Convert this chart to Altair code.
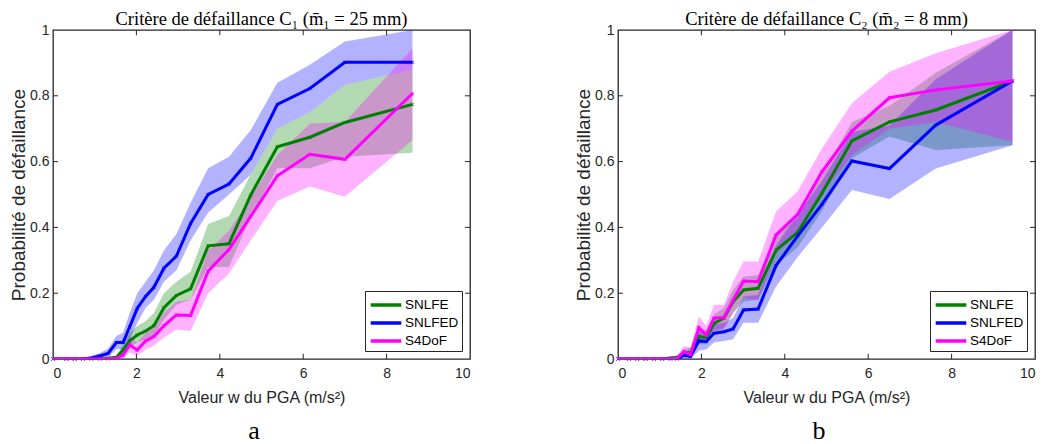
import altair as alt
import pandas as pd

SERIES = ["SNLFE", "SNLFED", "S4DoF"]
COLORS = ["#008000", "#0000ff", "#ff00ff"]

# ---------------- Panel a (C1) ----------------
xa = [0, 0.32, 0.52, 0.72, 0.92, 1.12, 1.32, 1.52, 1.68, 1.84, 2.02, 2.22, 2.42,
      2.66, 2.96, 3.30, 3.72, 4.22, 4.74, 5.38, 6.16, 7.00, 8.62]
a_snlfe = [0, 0, 0, 0, 0, 0, 0.002, 0.005, 0.027, 0.055, 0.073, 0.085, 0.101,
           0.156, 0.193, 0.213, 0.344, 0.350, 0.498, 0.645, 0.674, 0.719, 0.774]
a_snlfed = [0, 0, 0, 0, 0.003, 0.009, 0.017, 0.050, 0.050, 0.098, 0.154, 0.190, 0.218,
            0.276, 0.313, 0.412, 0.500, 0.532, 0.610, 0.774, 0.822, 0.902, 0.902]
a_s4dof = [0, 0, 0, 0, 0, 0, 0, 0.002, 0.012, 0.043, 0.027, 0.055, 0.068,
           0.101, 0.134, 0.132, 0.267, 0.333, 0.433, 0.557, 0.622, 0.607, 0.807]
a_snlfe_lo = [0, 0, 0, 0, 0, 0, 0, 0, 0.010, 0.035, 0.050, 0.060, 0.070,
              0.120, 0.165, 0.180, 0.280, 0.280, 0.430, 0.580, 0.580, 0.615, 0.627]
a_snlfe_hi = [0, 0, 0, 0, 0, 0, 0.005, 0.010, 0.045, 0.080, 0.100, 0.115, 0.140,
              0.200, 0.235, 0.265, 0.410, 0.435, 0.560, 0.700, 0.750, 0.833, 0.880]
a_snlfed_lo = [0, 0, 0, 0, 0, 0, 0.003, 0.030, 0.030, 0.060, 0.110, 0.155, 0.180,
               0.235, 0.270, 0.360, 0.445, 0.500, 0.560, 0.700, 0.750, 0.833, 0.880]
a_snlfed_hi = [0, 0, 0, 0, 0.010, 0.018, 0.032, 0.070, 0.080, 0.140, 0.200, 0.235, 0.270,
               0.330, 0.380, 0.475, 0.580, 0.615, 0.695, 0.840, 0.894, 0.965, 1.000]
a_s4dof_lo = [0, 0, 0, 0, 0, 0, 0, 0, 0, 0.020, 0.010, 0.030, 0.040,
              0.065, 0.090, 0.085, 0.200, 0.260, 0.360, 0.480, 0.524, 0.493, 0.666]
a_s4dof_hi = [0, 0, 0, 0, 0, 0, 0, 0.010, 0.030, 0.070, 0.050, 0.080, 0.095,
              0.140, 0.175, 0.180, 0.330, 0.390, 0.490, 0.620, 0.716, 0.720, 0.944]

# ---------------- Panel b (C2) ----------------
xb = [0, 0.26, 0.46, 0.66, 0.86, 1.06, 1.26, 1.42, 1.58, 1.74, 1.94, 2.12, 2.30,
      2.54, 2.76, 3.01, 3.36, 3.79, 4.31, 4.89, 5.61, 6.51, 7.62, 9.46]
b_snlfe = [0, 0, 0, 0, 0, 0, 0.003, 0.005, 0.017, 0.020, 0.068, 0.065, 0.108,
           0.124, 0.174, 0.210, 0.215, 0.331, 0.385, 0.504, 0.663, 0.721, 0.757, 0.845]
b_snlfed = [0, 0, 0, 0, 0, 0, 0, 0, 0.012, 0.008, 0.055, 0.053, 0.078,
            0.083, 0.091, 0.149, 0.152, 0.284, 0.374, 0.470, 0.602, 0.579, 0.711, 0.845]
b_s4dof = [0, 0, 0, 0, 0, 0, 0, 0.002, 0.022, 0.014, 0.095, 0.073, 0.124,
           0.126, 0.179, 0.237, 0.235, 0.377, 0.440, 0.569, 0.693, 0.794, 0.818, 0.845]
b_snlfe_lo = [0, 0, 0, 0, 0, 0, 0, 0, 0.005, 0.005, 0.045, 0.045, 0.080,
              0.095, 0.140, 0.175, 0.180, 0.285, 0.340, 0.450, 0.610, 0.676, 0.635, 0.650]
b_snlfe_hi = [0, 0, 0, 0, 0, 0, 0.006, 0.010, 0.030, 0.035, 0.090, 0.090, 0.135,
              0.155, 0.210, 0.250, 0.255, 0.380, 0.430, 0.560, 0.720, 0.770, 0.870, 1.000]
b_snlfed_lo = [0, 0, 0, 0, 0, 0, 0, 0, 0, 0, 0.025, 0.030, 0.050,
               0.055, 0.060, 0.110, 0.110, 0.220, 0.310, 0.400, 0.514, 0.486, 0.579, 0.650]
b_snlfed_hi = [0, 0, 0, 0, 0, 0, 0, 0.010, 0.025, 0.025, 0.085, 0.080, 0.105,
               0.110, 0.125, 0.190, 0.195, 0.345, 0.440, 0.540, 0.690, 0.710, 0.850, 1.000]
b_s4dof_lo = [0, 0, 0, 0, 0, 0, 0, 0, 0.005, 0, 0.060, 0.050, 0.090,
              0.090, 0.140, 0.185, 0.180, 0.320, 0.380, 0.500, 0.620, 0.700, 0.720, 0.660]
b_s4dof_hi = [0, 0, 0, 0, 0, 0, 0, 0.010, 0.040, 0.035, 0.130, 0.100, 0.165,
              0.165, 0.235, 0.296, 0.296, 0.448, 0.510, 0.640, 0.777, 0.873, 0.929, 1.000]

x_ticks = [0, 2, 4, 6, 8, 10]
y_ticks = [0, 0.2, 0.4, 0.6, 0.8, 1]
inner_x_ticks = [2, 4, 6, 8]
inner_y_ticks = [0.2, 0.4, 0.6, 0.8]

SANS = "Liberation Sans, Arial, Helvetica"
SERIF = "Liberation Serif, DejaVu Serif"
INK = "#262626"

W, H = 417, 329

xscale = alt.Scale(domain=[0, 10], nice=False)
yscale = alt.Scale(domain=[0, 1], nice=False)
cscale = alt.Scale(domain=SERIES, range=COLORS)
LEGEND = alt.Legend(title=None, orient="bottom-right")


def make_df(x, vals, lo, hi, name):
    return pd.DataFrame({"x": x, "p": vals, "lo": lo, "hi": hi, "series": name})


def panel(x, data, title):
    frames = [make_df(x, v, lo, hi, n) for n, (v, lo, hi) in zip(SERIES, data)]
    X = alt.X("x:Q", scale=xscale,
              axis=alt.Axis(values=x_ticks, title="Valeur w du PGA (m/s²)", format="d",
                            titleFontSize=16, titlePadding=9, labelPadding=7))
    Y = alt.Y("p:Q", scale=yscale,
              axis=alt.Axis(values=y_ticks, title="Probabilité de défaillance", format=".1~f",
                            titleFontSize=19, titlePadding=1, labelPadding=4))
    layers = []
    for df, col in zip(frames, COLORS):
        layers.append(
            alt.Chart(df).mark_area(opacity=0.3, clip=True, color=col).encode(
                x=X,
                y=alt.Y("lo:Q", scale=yscale),
                y2="hi:Q",
            )
        )
    for df, col in zip(frames, COLORS):
        base = alt.Chart(df)
        layers.append(
            base.mark_line(strokeWidth=3, clip=True).encode(
                x=X, y=Y,
                color=alt.Color("series:N", scale=cscale, sort=SERIES, legend=LEGEND),
            )
        )
        layers.append(
            base.mark_point(shape="M-1,-1L1,1M-1,1L1,-1", size=10, strokeWidth=1,
                            filled=False, opacity=0.8, color=col).encode(x=X, y=Y)
        )
    # inward ticks (box style)
    tx = pd.DataFrame({"t": inner_x_ticks})
    ty = pd.DataFrame({"t": inner_y_ticks})
    tick_style = dict(color=INK, strokeWidth=1)
    layers.append(alt.Chart(tx).mark_rule(**tick_style).encode(
        x=alt.X("t:Q", scale=xscale), y=alt.datum(0, scale=yscale), y2=alt.datum(0.016)))
    layers.append(alt.Chart(tx).mark_rule(**tick_style).encode(
        x=alt.X("t:Q", scale=xscale), y=alt.datum(0.984, scale=yscale), y2=alt.datum(1)))
    layers.append(alt.Chart(ty).mark_rule(**tick_style).encode(
        y=alt.Y("t:Q", scale=yscale), x=alt.datum(0, scale=xscale), x2=alt.datum(0.12)))
    layers.append(alt.Chart(ty).mark_rule(**tick_style).encode(
        y=alt.Y("t:Q", scale=yscale), x=alt.datum(9.88, scale=xscale), x2=alt.datum(10)))
    return alt.layer(*layers).properties(
        width=W, height=H,
        title=alt.TitleParams(title, font=SERIF, fontSize=18.5, fontWeight="normal",
                              offset=-5, color="#000000"),
    )


left = panel(xa, [(a_snlfe, a_snlfe_lo, a_snlfe_hi),
                  (a_snlfed, a_snlfed_lo, a_snlfed_hi),
                  (a_s4dof, a_s4dof_lo, a_s4dof_hi)],
             "Critère de défaillance  C\u2081 (m\u0304\u2081 = 25 mm)")
right = panel(xb, [(b_snlfe, b_snlfe_lo, b_snlfe_hi),
                   (b_snlfed, b_snlfed_lo, b_snlfed_hi),
                   (b_s4dof, b_s4dof_lo, b_s4dof_hi)],
              "Critère de défaillance  C\u2082 (m\u0304\u2082 = 8 mm)")


def bottom_title(txt):
    return alt.TitleParams(txt, orient="bottom", anchor="middle", font=SERIF, fontSize=26,
                           fontWeight="normal", offset=12, dx=14, color="#000000")


def wrap(panel_chart, letter):
    return alt.vconcat(panel_chart, title=bottom_title(letter)).resolve_scale(
        color="independent").resolve_legend(color="independent")


chart = alt.hconcat(
    wrap(left, "a"),
    wrap(right, "b"),
    spacing=101,
).resolve_scale(color="independent").resolve_legend(color="independent").properties(
    padding={"left": 0, "top": 0, "right": 0, "bottom": 0}
).configure_view(stroke=INK, strokeWidth=1.3
).configure_axis(
    domain=False, ticks=False, grid=False,
    labelFont=SANS, labelFontSize=14, labelColor=INK,
    titleFont=SANS, titleFontWeight="normal", titleColor=INK,
).configure_legend(
    strokeColor=INK, fillColor="#ffffff", padding=3, cornerRadius=0,
    symbolType="M-1.7,0L1.7,0", symbolSize=324, symbolStrokeWidth=3.5, symbolOffset=7,
    labelFont=SANS, labelFontSize=13.5, labelColor="#000000", labelOffset=8,
    rowPadding=0, offset=8,
)

chart.save("out.html", embed_options={"renderer": "svg", "actions": False})
